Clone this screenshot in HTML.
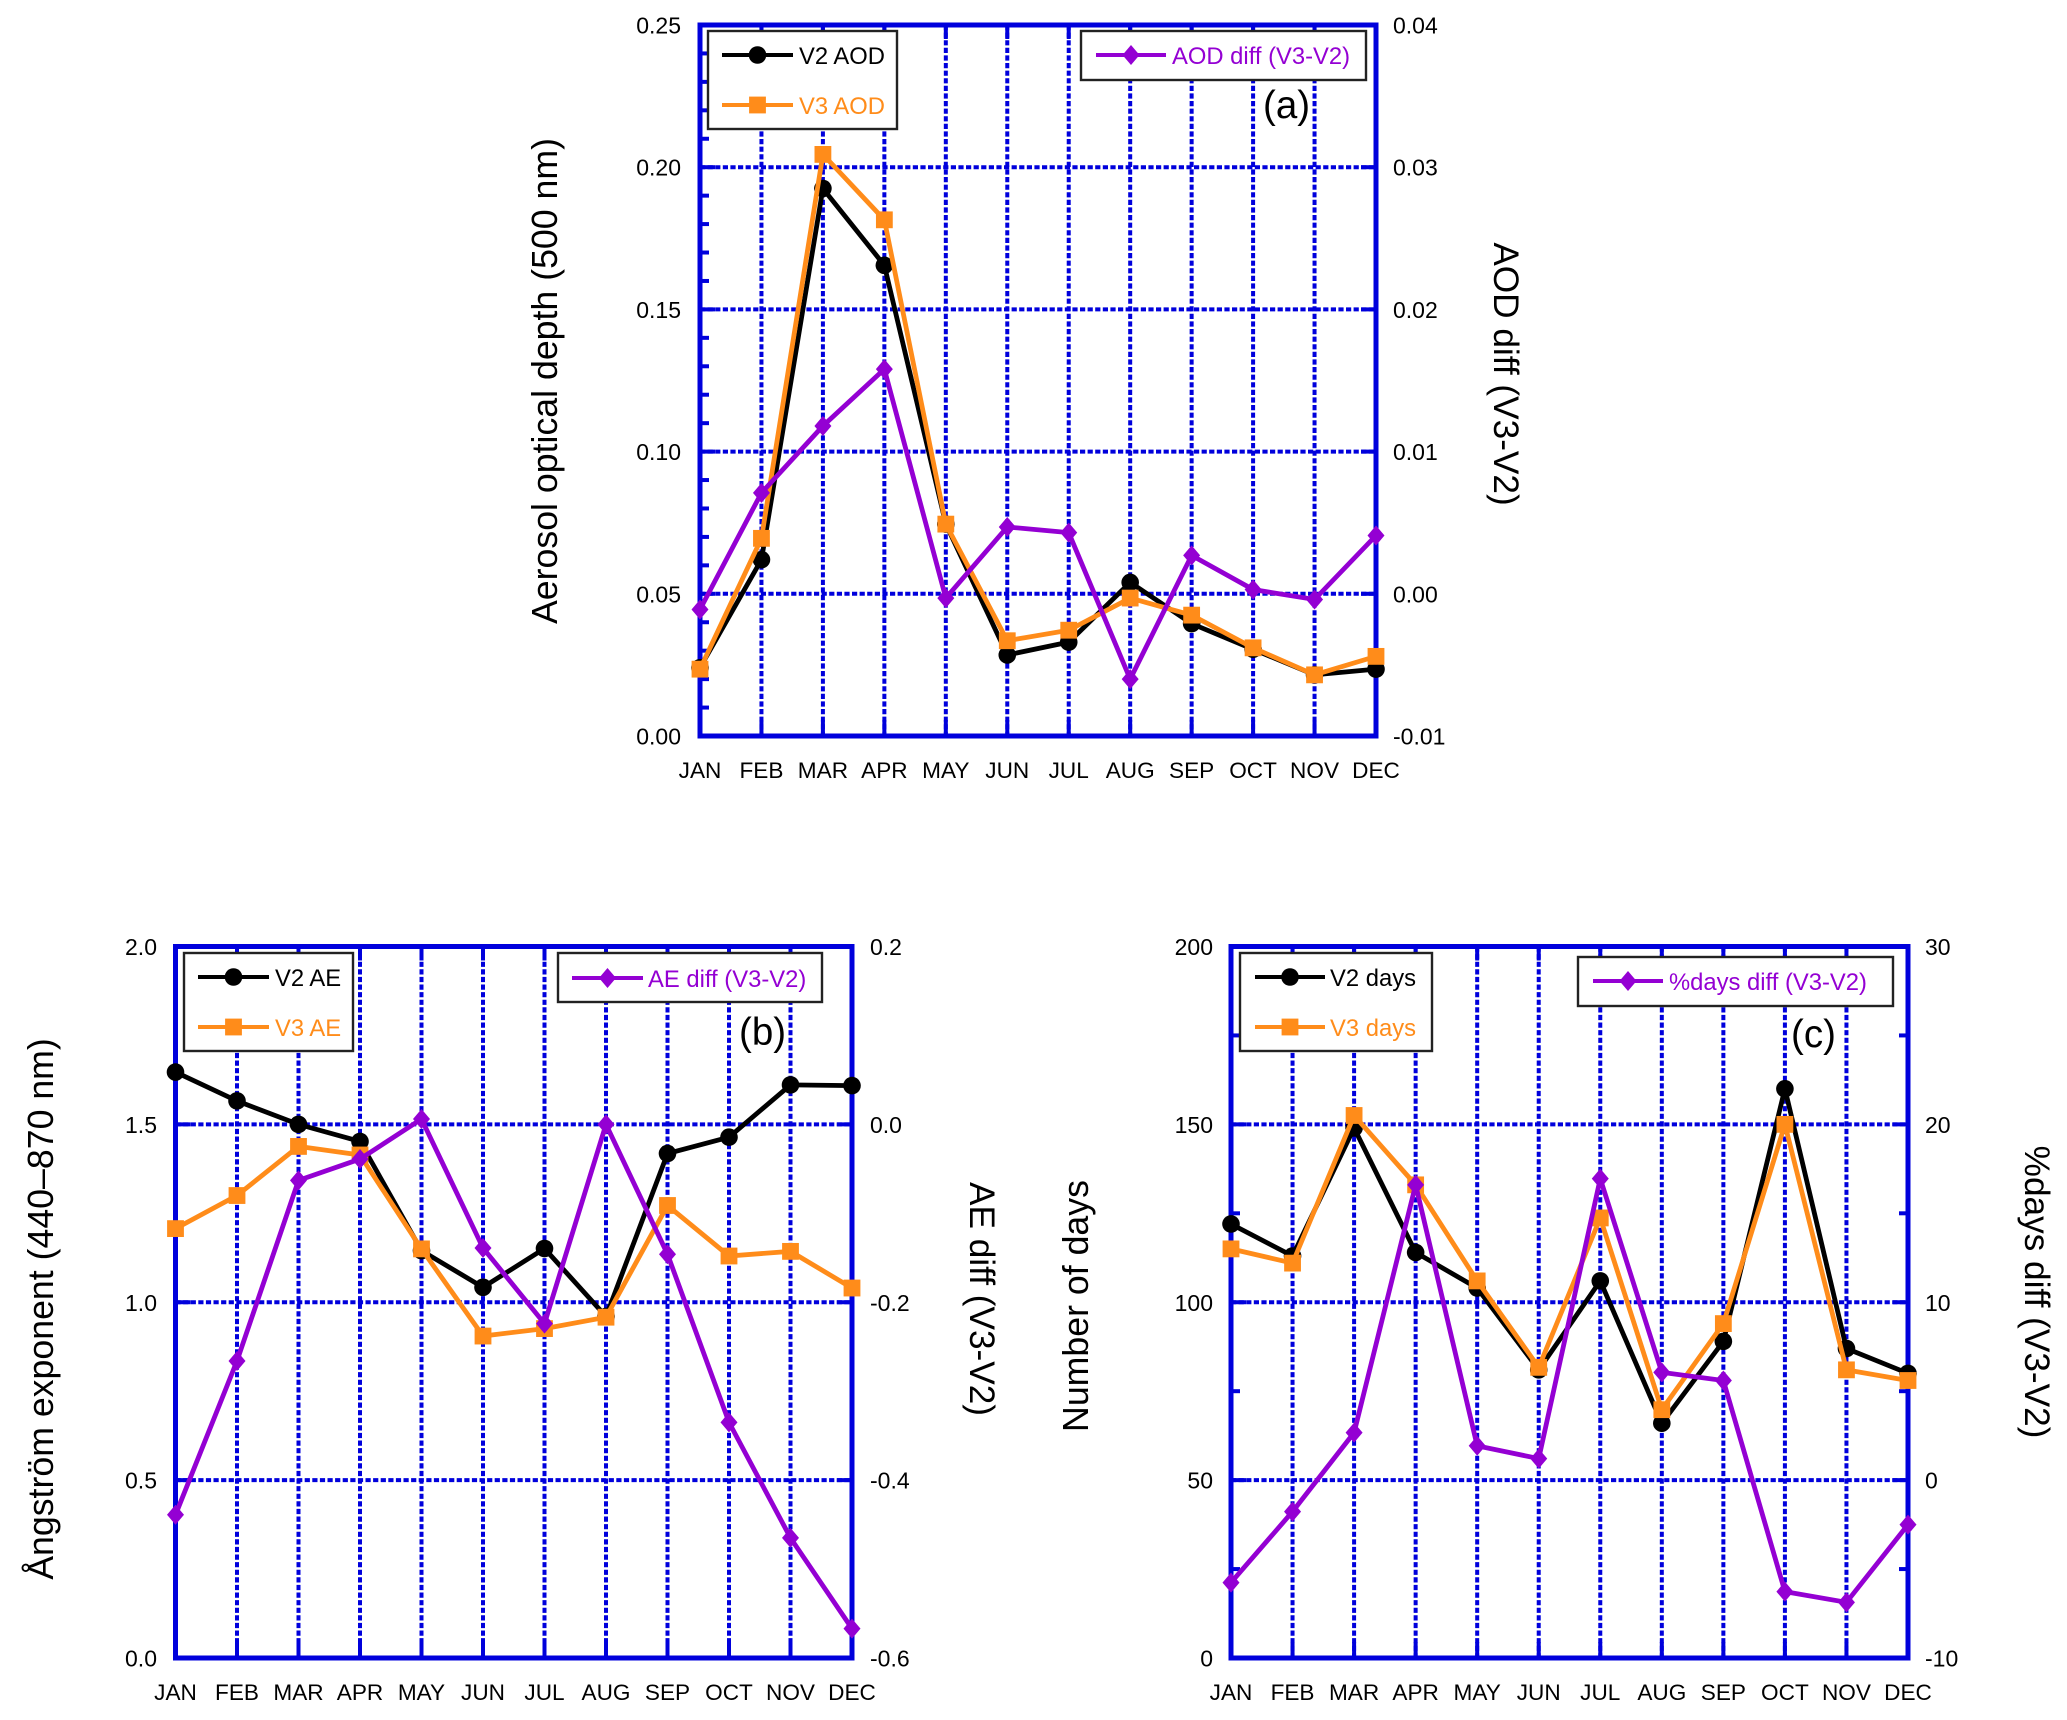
<!DOCTYPE html>
<html lang="en">
<head>
<meta charset="utf-8">
<title>AOD, AE and number of days: V2 vs V3 monthly climatology</title>
<style>
  html, body { margin: 0; padding: 0; background: #ffffff; }
  #figure { display: block; width: 2067px; height: 1720px; font-family: "Liberation Sans", Arial, sans-serif; }
</style>
</head>
<body>
<svg id="figure" xmlns="http://www.w3.org/2000/svg" width="2067" height="1720" viewBox="0 0 2067 1720"></svg>
<script>
var months = ['JAN','FEB','MAR','APR','MAY','JUN','JUL','AUG','SEP','OCT','NOV','DEC'];

var aodV2 = [0.024,0.062,0.1925,0.1655,0.0745,0.0285,0.033,0.054,0.0395,0.0305,0.0215,0.0235];
var aodV3 = [0.0235,0.0695,0.2045,0.1815,0.0745,0.0335,0.0372,0.0485,0.0425,0.031,0.0215,0.028];
var aodDiff = [-0.0011,0.0071,0.0118,0.0158,-0.0003,0.0047,0.0043,-0.0060,0.0027,0.0003,-0.0004,0.0041];
var aodLeftTicks = [0,0.05,0.10,0.15,0.20,0.25];
var aodLeftLabels = ['0.00','0.05','0.10','0.15','0.20','0.25'];
var aodRightTicks = [-0.01,0,0.01,0.02,0.03,0.04];
var aodRightLabels = ['-0.01','0.00','0.01','0.02','0.03','0.04'];
var aodLeftMinor = [0.01,0.02,0.03,0.04,0.06,0.07,0.08,0.09,0.11,0.12,0.13,0.14,0.16,0.17,0.18,0.19,0.21,0.22,0.23,0.24];
var aodRightMinor = [];

var aeV2 = [1.647,1.566,1.50,1.452,1.145,1.042,1.151,0.96,1.418,1.464,1.611,1.609];
var aeV3 = [1.207,1.30,1.438,1.414,1.15,0.905,0.926,0.958,1.272,1.13,1.143,1.04];
var aeDiff = [-0.439,-0.266,-0.063,-0.039,0.006,-0.139,-0.224,0.0,-0.146,-0.335,-0.465,-0.567];
var aeLeftTicks = [0,0.5,1.0,1.5,2.0];
var aeLeftLabels = ['0.0','0.5','1.0','1.5','2.0'];
var aeRightTicks = [-0.6,-0.4,-0.2,0,0.2];
var aeRightLabels = ['-0.6','-0.4','-0.2','0.0','0.2'];
var aeLeftMinor = [];
var aeRightMinor = [];

var daysV2 = [122,113,149,114,104,81,106,66,89,160,87,80];
var daysV3 = [115,111,152.5,133,106,81.7,123.7,69.8,94,150,81,78];
var daysDiff = [-5.76,-1.77,2.67,16.6,1.93,1.21,16.95,6.06,5.6,-6.27,-6.87,-2.5];
var daysLeftTicks = [0,50,100,150,200];
var daysLeftLabels = ['0','50','100','150','200'];
var daysRightTicks = [-10,0,10,20,30];
var daysRightLabels = ['-10','0','10','20','30'];
var daysLeftMinor = [25,75,125,175];
var daysRightMinor = [-5,5,15,25];

var BLUE = '#0000dc', BLACK = '#000000', ORANGE = '#ff8c1a', PURPLE = '#9400d3';
var NS = 'http://www.w3.org/2000/svg';
var svg = document.getElementById('figure');

function mk(parent, tag, attrs, txt) {
  var el = document.createElementNS(NS, tag);
  for (var k in attrs) el.setAttribute(k, attrs[k]);
  if (txt !== undefined) el.textContent = txt;
  parent.appendChild(el);
  return el;
}

function marker(parent, kind, x, y, color) {
  if (kind === 'circle') return mk(parent, 'circle', {cx: x, cy: y, r: 8.8, fill: color});
  if (kind === 'square') return mk(parent, 'rect', {x: x - 8.4, y: y - 8.4, width: 16.8, height: 16.8, fill: color});
  return mk(parent, 'polygon', {points: (x - 8.5) + ',' + y + ' ' + x + ',' + (y - 10) + ' ' + (x + 8.5) + ',' + y + ' ' + x + ',' + (y + 10), fill: color});
}

function drawLegendEntry(g, panelId, s, lx0, lx1, ly, tx, tb) {
  var entry = mk(g, 'g', {});
  
  
  mk(entry, 'line', {x1: lx0, x2: lx1, y1: ly, y2: ly, stroke: s.color, 'stroke-width': 4});
  marker(entry, s.kind, (lx0 + lx1) / 2, ly, s.color);
  mk(entry, 'text', {x: tx, y: tb, 'font-size': 23.8, fill: s.color}, s.label);
}

function drawPanel(p) {
  var g = mk(svg, 'g', {});
  
  

  var sx = function (i) { return p.left + (p.right - p.left) * i / (months.length - 1); };
  var syL = function (v) { return p.bottom - (v - p.lMin) / (p.lMax - p.lMin) * (p.bottom - p.top); };
  var syR = function (v) { return p.bottom - (v - p.rMin) / (p.rMax - p.rMin) * (p.bottom - p.top); };

  var grid = mk(g, 'g', {});
  
  
  months.forEach(function (m, i) {
    if (i === 0 || i === months.length - 1) return;
    var x = sx(i);
    mk(grid, 'line', {x1: x, x2: x, y1: p.top, y2: p.bottom, stroke: BLUE, 'stroke-width': 4, 'stroke-dasharray': '5.2 2.4'});
    mk(grid, 'line', {x1: x, x2: x, y1: p.bottom - 16, y2: p.bottom, stroke: BLUE, 'stroke-width': 4});
    mk(grid, 'line', {x1: x, x2: x, y1: p.top, y2: p.top + 14, stroke: BLUE, 'stroke-width': 4});
  });
  p.lTicks.forEach(function (v) {
    if (v === p.lMin || v === p.lMax) return;
    var y = syL(v);
    mk(grid, 'line', {x1: p.left, x2: p.right, y1: y, y2: y, stroke: BLUE, 'stroke-width': 4, 'stroke-dasharray': '5.2 2.4'});
    mk(grid, 'line', {x1: p.left, x2: p.left + 15, y1: y, y2: y, stroke: BLUE, 'stroke-width': 4});
    mk(grid, 'line', {x1: p.right - 15, x2: p.right, y1: y, y2: y, stroke: BLUE, 'stroke-width': 4});
  });

  var minors = mk(g, 'g', {});
  
  
  p.lMinor.forEach(function (v) {
    var y = syL(v);
    mk(minors, 'line', {x1: p.left, x2: p.left + 9, y1: y, y2: y, stroke: BLUE, 'stroke-width': 4});
  });
  p.rMinor.forEach(function (v) {
    var y = syR(v);
    mk(minors, 'line', {x1: p.right - 9, x2: p.right, y1: y, y2: y, stroke: BLUE, 'stroke-width': 4});
  });

  var frame = mk(g, 'rect', {x: p.left, y: p.top, width: p.right - p.left, height: p.bottom - p.top, fill: 'none', stroke: BLUE, 'stroke-width': 5});
  
  

  p.lTicks.forEach(function (v, i) {
    var t = mk(g, 'text', {x: p.lLabelX, y: syL(v) + 8.5, 'text-anchor': 'end', 'font-size': 23, fill: '#000'}, p.lLabels[i]);
    
    
  });
  p.rTicks.forEach(function (v, i) {
    var t = mk(g, 'text', {x: p.rLabelX, y: syR(v) + 8.5, 'font-size': 23, fill: '#000'}, p.rLabels[i]);
    
    
  });
  months.forEach(function (m, i) {
    var t = mk(g, 'text', {x: sx(i), y: p.bottom + 42, 'text-anchor': 'middle', 'font-size': 22.6, fill: '#000'}, m);
    
    
  });

  p.series.forEach(function (s) {
    var sy = s.axis === 'right' ? syR : syL;
    var sg = mk(g, 'g', {});
    
    
    var pts = s.values.map(function (v, i) { return sx(i) + ',' + sy(v); }).join(' ');
    mk(sg, 'polyline', {points: pts, fill: 'none', stroke: s.color, 'stroke-width': 4.8, 'stroke-linejoin': 'miter'});
    s.values.forEach(function (v, i) {
      var pt = marker(sg, s.kind, sx(i), sy(v), s.color);
      
      
    });
  });

  var lt = mk(g, 'text', {transform: 'translate(' + p.yTitle.x + ',' + p.yTitle.y + ') rotate(-90)', 'text-anchor': 'middle', 'font-size': 35.7, fill: '#000'}, p.yTitle.text);
  
  
  var rt = mk(g, 'text', {transform: 'translate(' + p.rTitle.x + ',' + p.rTitle.y + ') rotate(90)', 'text-anchor': 'middle', 'font-size': 35.2, fill: '#000'}, p.rTitle.text);
  
  

  var L = p.legendL;
  var lg = mk(g, 'g', {});
  
  
  mk(lg, 'rect', {x: L.x0, y: L.y0, width: L.x1 - L.x0, height: L.y1 - L.y0, fill: '#fff', stroke: '#222', 'stroke-width': 2.4});
  drawLegendEntry(lg, p.id, p.series[0], L.lx0, L.lx1, L.ly1, L.tx, L.ly1 + 9);
  drawLegendEntry(lg, p.id, p.series[1], L.lx0, L.lx1, L.ly2, L.tx, L.ly2 + 9);

  var R = p.legendR;
  var rg = mk(g, 'g', {});
  
  
  mk(rg, 'rect', {x: R.x0, y: R.y0, width: R.x1 - R.x0, height: R.y1 - R.y0, fill: '#fff', stroke: '#222', 'stroke-width': 2.4});
  drawLegendEntry(rg, p.id, p.series[2], R.lx0, R.lx1, R.ly1, R.tx, R.ly1 + 9);

  var tag = mk(g, 'text', {x: p.tag.x, y: p.tag.y, 'font-size': 38.5, fill: '#000'}, p.tag.text);
  
  
}

drawPanel({
  id: 'panel-a', left: 700, right: 1376, top: 25, bottom: 736,
  lMin: 0, lMax: 0.25, rMin: -0.01, rMax: 0.04,
  lTicks: aodLeftTicks, lLabels: aodLeftLabels, rTicks: aodRightTicks, rLabels: aodRightLabels,
  lMinor: aodLeftMinor, rMinor: aodRightMinor, lLabelX: 681, rLabelX: 1393,
  series: [
    {key: 'v2-aod', label: 'V2 AOD', values: aodV2, color: BLACK, kind: 'circle', axis: 'left'},
    {key: 'v3-aod', label: 'V3 AOD', values: aodV3, color: ORANGE, kind: 'square', axis: 'left'},
    {key: 'aod-diff', label: 'AOD diff (V3-V2)', values: aodDiff, color: PURPLE, kind: 'diamond', axis: 'right'}
  ],
  yTitle: {x: 557, y: 381, text: 'Aerosol optical depth (500 nm)'},
  rTitle: {x: 1494, y: 374, text: 'AOD diff (V3-V2)'},
  legendL: {x0: 708, x1: 897, y0: 31, y1: 129, lx0: 722, lx1: 793, ly1: 55, ly2: 105, tx: 799},
  legendR: {x0: 1081, x1: 1366, y0: 31, y1: 80, lx0: 1096, lx1: 1166, ly1: 55, tx: 1172},
  tag: {x: 1263, y: 118, text: '(a)'}
});

drawPanel({
  id: 'panel-b', left: 175.5, right: 852, top: 946.5, bottom: 1658,
  lMin: 0, lMax: 2, rMin: -0.6, rMax: 0.2,
  lTicks: aeLeftTicks, lLabels: aeLeftLabels, rTicks: aeRightTicks, rLabels: aeRightLabels,
  lMinor: aeLeftMinor, rMinor: aeRightMinor, lLabelX: 157, rLabelX: 870,
  series: [
    {key: 'v2-ae', label: 'V2 AE', values: aeV2, color: BLACK, kind: 'circle', axis: 'left'},
    {key: 'v3-ae', label: 'V3 AE', values: aeV3, color: ORANGE, kind: 'square', axis: 'left'},
    {key: 'ae-diff', label: 'AE diff (V3-V2)', values: aeDiff, color: PURPLE, kind: 'diamond', axis: 'right'}
  ],
  yTitle: {x: 53, y: 1309, text: 'Ångström exponent (440–870 nm)'},
  rTitle: {x: 970, y: 1299, text: 'AE diff (V3-V2)'},
  legendL: {x0: 184, x1: 353, y0: 953, y1: 1051, lx0: 198, lx1: 269, ly1: 977, ly2: 1027, tx: 275},
  legendR: {x0: 558, x1: 822, y0: 953, y1: 1002, lx0: 572, lx1: 643, ly1: 978, tx: 648},
  tag: {x: 739, y: 1045, text: '(b)'}
});

drawPanel({
  id: 'panel-c', left: 1231, right: 1908, top: 946.5, bottom: 1658,
  lMin: 0, lMax: 200, rMin: -10, rMax: 30,
  lTicks: daysLeftTicks, lLabels: daysLeftLabels, rTicks: daysRightTicks, rLabels: daysRightLabels,
  lMinor: daysLeftMinor, rMinor: daysRightMinor, lLabelX: 1213, rLabelX: 1925,
  series: [
    {key: 'v2-days', label: 'V2 days', values: daysV2, color: BLACK, kind: 'circle', axis: 'left'},
    {key: 'v3-days', label: 'V3 days', values: daysV3, color: ORANGE, kind: 'square', axis: 'left'},
    {key: 'days-diff', label: '%days diff (V3-V2)', values: daysDiff, color: PURPLE, kind: 'diamond', axis: 'right'}
  ],
  yTitle: {x: 1088, y: 1306, text: 'Number of days'},
  rTitle: {x: 2025, y: 1292, text: '%days diff (V3-V2)'},
  legendL: {x0: 1240, x1: 1432, y0: 953, y1: 1051, lx0: 1255, lx1: 1325, ly1: 977, ly2: 1027, tx: 1330},
  legendR: {x0: 1578, x1: 1893, y0: 957, y1: 1006, lx0: 1593, lx1: 1663, ly1: 981, tx: 1669},
  tag: {x: 1791, y: 1047, text: '(c)'}
});
</script>
</body>
</html>
